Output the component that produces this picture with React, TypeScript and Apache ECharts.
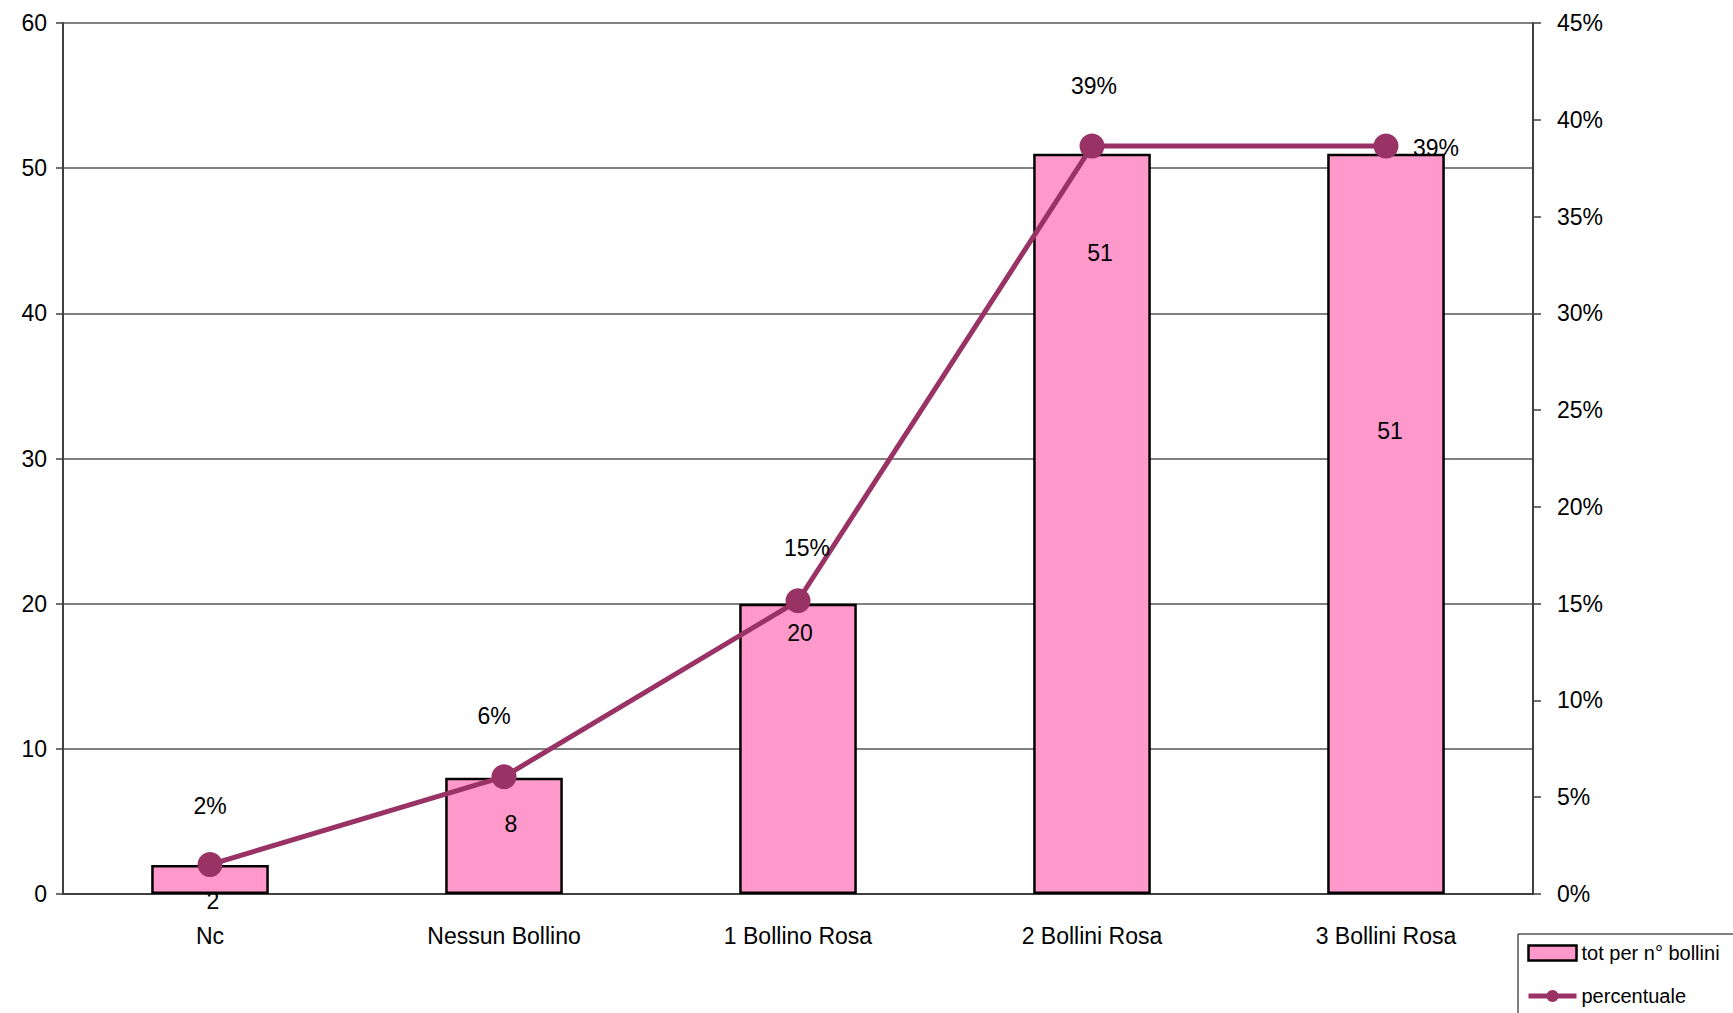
import React, { useEffect, useRef } from "react";
import * as echarts from "echarts";

const categories = ["Nc", "Nessun Bollino", "1 Bollino Rosa", "2 Bollini Rosa", "3 Bollini Rosa"];
const totPerBollini = [2, 8, 20, 51, 51];
const percentuale = [0.0152, 0.0606, 0.1515, 0.3864, 0.3864];
const leftTicks = { min: 0, max: 60, interval: 10 };
const rightTicks = { min: 0, max: 0.45, interval: 0.05 };

// label placement (styles, not data)
const barLabelOffsets = [[3, 36], [7, 46], [2, 29], [8, 99], [4, 277]];
const lineLabelOffsets = [[0, -59], [-10, -61], [9, -53], [2, -60], [50, 2]];

const FONT = "'Liberation Sans Narrow', 'Arial Narrow', 'Liberation Sans', Arial, sans-serif";

export default function App() {
  const ref = useRef<HTMLDivElement>(null);
  useEffect(() => {
    if (!ref.current) return;
    const chart = echarts.init(ref.current, null, { renderer: "svg" });
    chart.setOption({
      animation: false,
      backgroundColor: "#ffffff",
      textStyle: { fontFamily: FONT, color: "#000" },
      grid: { left: 63, right: 200, top: 23, bottom: 119, containLabel: false },
      legend: {
        orient: "vertical",
        left: 1518,
        top: 934,
        width: 260,
        height: 200,
        padding: [9, 20, 14, 8],
        borderColor: "#000",
        borderWidth: 1,
        itemGap: 23,
        itemWidth: 48,
        itemHeight: 15,
        textStyle: { fontFamily: FONT, fontSize: 20, color: "#000" },
        data: [
          { name: "tot per n° bollini", icon: "rect", itemStyle: { borderColor: "#000", borderWidth: 2.5 } },
          { name: "percentuale", lineStyle: { width: 5, color: "#993366" } },
        ],
      },
      xAxis: {
        type: "category",
        data: categories,
        axisLine: { lineStyle: { color: "#404040", width: 2 } },
        axisTick: { alignWithLabel: false, length: 10, lineStyle: { color: "#404040", width: 1.5 } },
        axisLabel: { fontFamily: FONT, fontSize: 23, color: "#000", margin: 30 },
        splitLine: { show: false },
      },
      yAxis: [
        {
          type: "value",
          ...leftTicks,
          axisLine: { show: true, lineStyle: { color: "#404040", width: 2 } },
          axisTick: { show: true, length: 7, lineStyle: { color: "#404040", width: 1.5 } },
          axisLabel: { fontFamily: FONT, fontSize: 23, color: "#000", margin: 16 },
          splitLine: { show: true, lineStyle: { color: "#808080", width: 2 } },
        },
        {
          type: "value",
          ...rightTicks,
          position: "right",
          axisLine: { show: true, lineStyle: { color: "#404040", width: 2 } },
          axisTick: { show: true, length: 8, lineStyle: { color: "#404040", width: 1.5 } },
          axisLabel: {
            fontFamily: FONT,
            fontSize: 23,
            color: "#000",
            margin: 24,
            formatter: (v: number) => Math.round(v * 100) + "%",
          },
          splitLine: { show: false },
        },
      ],
      series: [
        {
          name: "tot per n° bollini",
          type: "bar",
          yAxisIndex: 0,
          barWidth: "40%",
          itemStyle: { color: "#FF99CC", borderColor: "#000", borderWidth: 2.5 },
          data: totPerBollini.map((v, i) => ({
            value: v,
            label: {
              show: true,
              position: ["50%", barLabelOffsets[i][1]],
              offset: [barLabelOffsets[i][0], 0],
              align: "center",
              verticalAlign: "middle",
              fontFamily: FONT,
              fontSize: 23,
              color: "#000",
            },
          })),
          z: 2,
        },
        {
          name: "percentuale",
          type: "line",
          yAxisIndex: 1,
          symbol: "circle",
          symbolSize: 25,
          lineStyle: { color: "#993366", width: 5 },
          itemStyle: { color: "#993366" },
          data: percentuale.map((v, i) => ({
            value: v,
            label: {
              show: true,
              position: "inside",
              offset: lineLabelOffsets[i],
              fontFamily: FONT,
              fontSize: 23,
              color: "#000",
              formatter: (p: any) => Math.round(p.value * 100) + "%",
            },
          })),
          z: 3,
        },
      ],
    });
    return () => chart.dispose();
  }, []);
  return (
    <div
      ref={ref}
      style={{ position: "fixed", left: 0, top: 0, width: 1733, height: 1013, background: "#fff" }}
    />
  );
}
